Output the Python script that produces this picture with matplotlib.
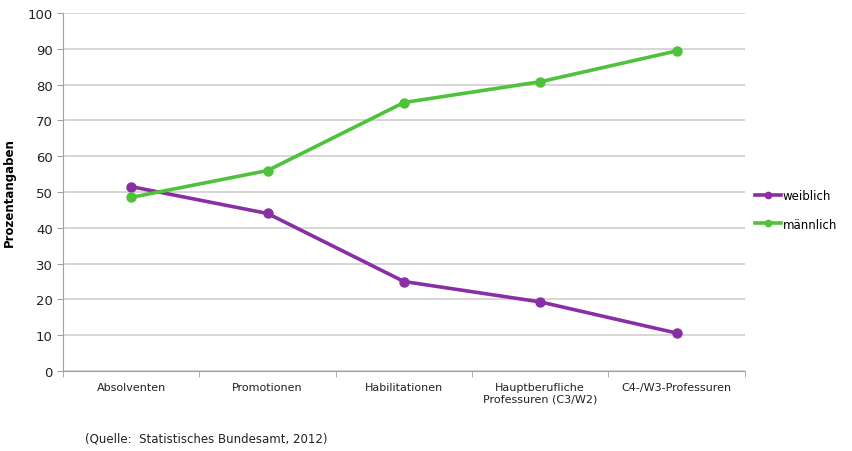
import matplotlib.pyplot as plt
import numpy as np

plt.rcParams["font.family"] = ["DejaVu Sans"]

kategorien = ["Absolventen", "Promotionen", "Habilitationen",
              "Hauptberufliche\nProfessuren (C3/W2)", "C4-/W3-Professuren"]
weiblich = [51.5, 44.0, 25.0, 19.3, 10.6]
maennlich = [48.5, 56.0, 75.0, 80.8, 89.4]

lila = "#8a2fa3"
gruen = "#4fc23c"

fig = plt.figure(figsize=(8.53, 4.52), dpi=100)
ax = fig.add_axes([0.074, 0.177, 0.799, 0.792])

x = np.arange(len(kategorien))
ax.plot(x, weiblich, color=lila, lw=2.6, marker="o", ms=6.5, label="weiblich")
ax.plot(x, maennlich, color=gruen, lw=2.6, marker="o", ms=6.5, label="männlich")

ax.set_xlim(-0.5, len(kategorien) - 0.5)
ax.set_ylim(0, 100)
ax.set_yticks(range(0, 101, 10))
ax.grid(axis="y", color="#d0d0d0", lw=1.2)
ax.set_axisbelow(True)

ax.set_xticks(x)
ax.set_xticklabels(kategorien, fontsize=8, color="#222222")
ax.set_xticks(np.arange(-0.5, len(kategorien), 1), minor=True)
ax.tick_params(axis="x", which="major", length=0, pad=8)
ax.tick_params(axis="x", which="minor", length=4, color="#a0a0a0")
ax.tick_params(axis="y", length=4, color="#a0a0a0", labelsize=9.5, labelcolor="#222222")

for s in ["top", "right"]:
    ax.spines[s].set_visible(False)
ax.spines["left"].set_color("#a0a0a0")
ax.spines["bottom"].set_color("#a0a0a0")

ax.set_ylabel("Prozentangaben", fontsize=8.5, fontweight="bold", labelpad=8)

ax.legend(loc="center left", bbox_to_anchor=(1.0, 0.45), frameon=False,
          fontsize=8.5, handlelength=2.2, handletextpad=0.1, labelspacing=1.3,
          markerscale=0.7)

fig.text(0.1, 0.02, "(Quelle:  Statistisches Bundesamt, 2012)", fontsize=8.5,
         color="#222222")

fig.savefig("out.png", dpi=100)
